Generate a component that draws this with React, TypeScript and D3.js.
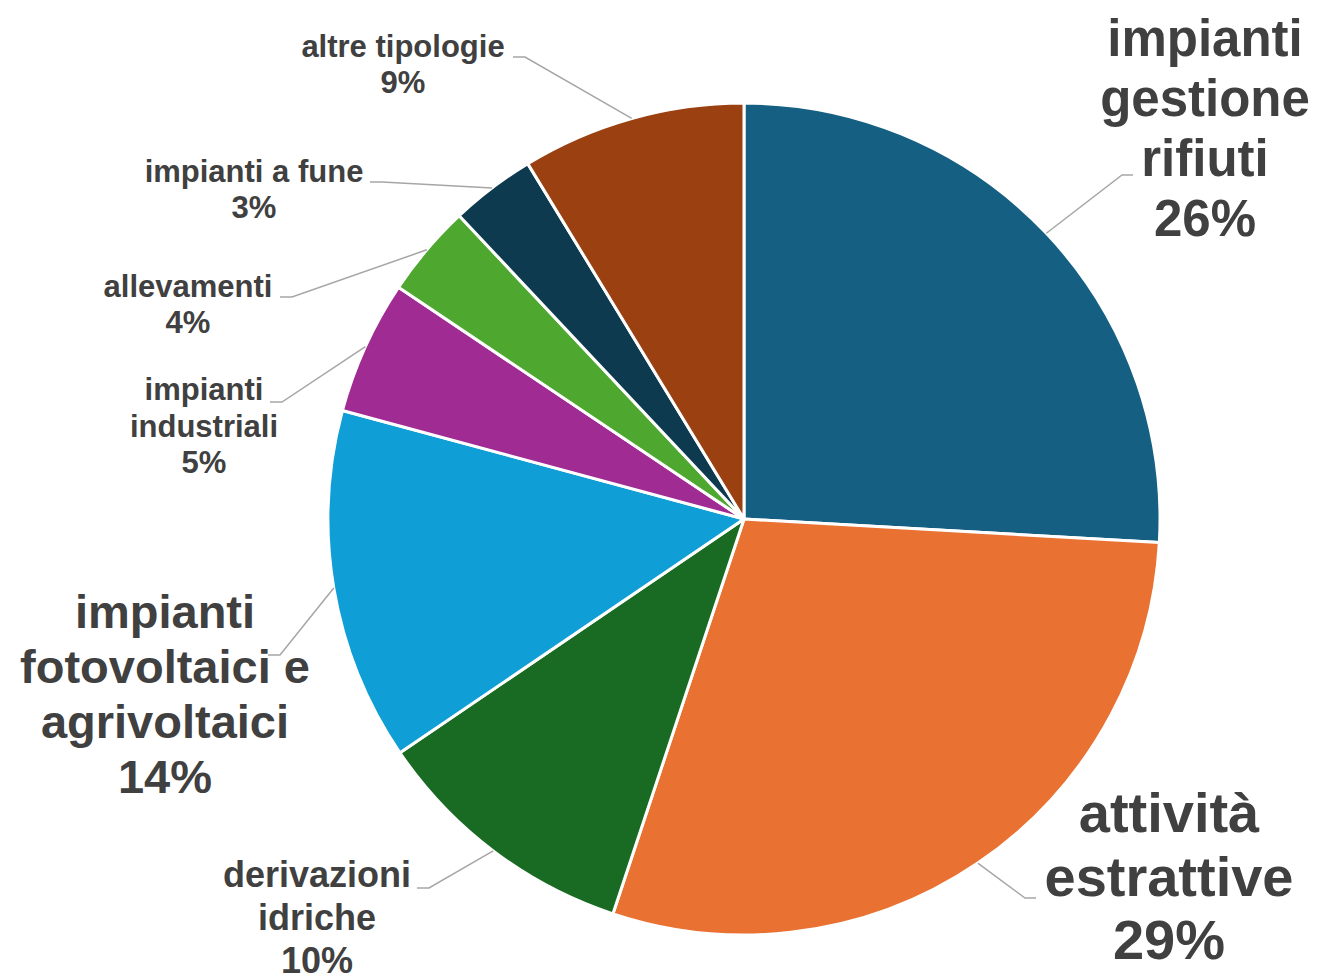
import React from "react";
import * as d3 from "d3";

const categories = [
  "impianti gestione rifiuti",
  "attività estrattive",
  "derivazioni idriche",
  "impianti fotovoltaici e agrivoltaici",
  "impianti industriali",
  "allevamenti",
  "impianti a fune",
  "altre tipologie",
];
const values = [25.9, 29.2, 10.4, 13.7, 5.2, 3.6, 3.3, 8.7];
const labelLines = [
  ["impianti", "gestione", "rifiuti"],
  ["attività", "estrattive"],
  ["derivazioni", "idriche"],
  ["impianti", "fotovoltaici e", "agrivoltaici"],
  ["impianti", "industriali"],
  ["allevamenti"],
  ["impianti a fune"],
  ["altre tipologie"],
];
const colors = ["#156082", "#E97132", "#196B24", "#0F9ED5", "#A02B93", "#4EA72E", "#0D3A4E", "#9A4011"];

// label layout (annotation placement)
const layout = [
  { cx: 1205, y0: 56, lh: 60, fs: 51, ax: 1133, ay: 175, dir: 1 },
  { cx: 1169, y0: 832, lh: 63.5, fs: 56, ax: 1036, ay: 898, dir: 1 },
  { cx: 317, y0: 887, lh: 43, fs: 36, ax: 417, ay: 888, dir: -1 },
  { cx: 165, y0: 628, lh: 55, fs: 47, ax: 268, ay: 655, dir: -1 },
  { cx: 204, y0: 400, lh: 36.5, fs: 31, ax: 270, ay: 402, dir: -1 },
  { cx: 188, y0: 297, lh: 36, fs: 31, ax: 280, ay: 297, dir: -1 },
  { cx: 254, y0: 182, lh: 36, fs: 31, ax: 370, ay: 182, dir: -1 },
  { cx: 403, y0: 57, lh: 36, fs: 31, ax: 513, ay: 57, dir: -1 },
];

const W = 1320;
const H = 976;
const CX = 744;
const CY = 519;
const R = 416;

export default function App() {
  const data = categories.map((c, i) => ({ c, v: values[i], i }));
  const pie = d3.pie<any>().sort(null).value((d) => d.v).startAngle(0).endAngle(2 * Math.PI);
  const arcs = pie(data);
  const arc = d3.arc<any>().innerRadius(0).outerRadius(R);
  const total = d3.sum(values);

  return (
    <svg width={W} height={H} style={{ position: "absolute", left: 0, top: 0, background: "#fff" }}
      fontFamily="'Liberation Sans', Arial, sans-serif">
      <g transform={`translate(${CX},${CY})`}>
        {arcs.map((a, i) => (
          <path key={i} d={arc(a) || ""} fill={colors[i]} stroke="#fff" strokeWidth={3} strokeLinejoin="round" />
        ))}
      </g>
      {arcs.map((a, i) => {
        const mid = (a.startAngle + a.endAngle) / 2;
        const sx = CX + R * Math.sin(mid);
        const sy = CY - R * Math.cos(mid);
        const L = layout[i];
        const ex = L.ax + (L.dir === 1 ? -11 : 12);
        const line = d3.line()([[sx, sy], [ex, L.ay], [L.ax, L.ay]]);
        return <path key={"l" + i} d={line || ""} fill="none" stroke="#A6A6A6" strokeWidth={1.5} />;
      })}
      {arcs.map((a, i) => {
        const L = layout[i];
        const pct = Math.round((values[i] / total) * 100) + "%";
        const lines = [...labelLines[i], pct];
        return (
          <text key={"t" + i} textAnchor="middle" fontWeight="bold" fontSize={L.fs} fill="#404040">
            {lines.map((s, k) => (
              <tspan key={k} x={L.cx} y={L.y0 + k * L.lh}>{s}</tspan>
            ))}
          </text>
        );
      })}
    </svg>
  );
}
